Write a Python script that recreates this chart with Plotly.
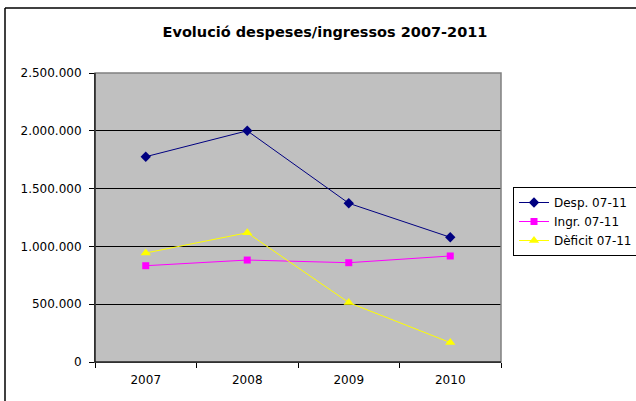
import plotly.graph_objects as go

years = ["2007", "2008", "2009", "2010"]
desp = [1776000, 2000000, 1373000, 1079000]
ingr = [833000, 882000, 859000, 917000]
deficit = [943000, 1118000, 514000, 168000]
series_names = ["Desp. 07-11", "Ingr. 07-11", "Dèficit 07-11"]
y_ticks = [0, 500000, 1000000, 1500000, 2000000, 2500000]

W, H = 636, 401
ml, mr, mt, mb = 95, 135, 73, 39
pw, ph = W - ml - mr, H - mt - mb

def px_x(p):
    return (p - ml) / pw

def px_y(p):
    return (H - mb - p) / ph

FONT = "DejaVu Sans"

fig = go.Figure()
fig.add_trace(go.Scatter(x=years, y=desp, name=series_names[0], mode="lines+markers",
                         line=dict(color="#000080", width=1),
                         marker=dict(symbol="diamond", size=8, color="#000080")))
fig.add_trace(go.Scatter(x=years, y=ingr, name=series_names[1], mode="lines+markers",
                         line=dict(color="#FF00FF", width=1),
                         marker=dict(symbol="square", size=7, color="#FF00FF")))
fig.add_trace(go.Scatter(x=years, y=deficit, name=series_names[2], mode="lines+markers",
                         line=dict(color="#FFFF00", width=1),
                         marker=dict(symbol="triangle-up", size=9, color="#FFFF00")))

fig.update_layout(
    width=W, height=H,
    margin=dict(l=ml, r=mr, t=mt, b=mb, pad=0, autoexpand=False),
    paper_bgcolor="white",
    plot_bgcolor="#C0C0C0",
    separators=",.",
    font=dict(family=FONT, size=12, color="black"),
    title=dict(text="<b>Evolució despeses/ingressos 2007-2011</b>",
               font=dict(family=FONT, size=14.5, color="black"),
               x=325 / W, xanchor="center", xref="container",
               y=1 - 32 / H, yanchor="middle", yref="container"),
    xaxis=dict(type="category", showgrid=False, zeroline=False, automargin=False,
               showline=True, linecolor="black", linewidth=1,
               ticks="outside", ticklen=5, tickcolor="black", tickson="boundaries",
               ticklabelstandoff=7,
               tickfont=dict(family=FONT, size=12, color="black"),
               range=[-0.5, 3.5], fixedrange=True),
    yaxis=dict(range=[0, 2500000], tickvals=y_ticks, tickformat=",d", automargin=False,
               showgrid=True, gridcolor="black", gridwidth=1, zeroline=False,
               showline=True, linecolor="black", linewidth=1,
               ticks="outside", ticklen=5, tickcolor="black",
               ticklabelstandoff=5,
               tickfont=dict(family=FONT, size=12, color="black"),
               fixedrange=True),
    legend=dict(x=513 / W, y=1 - 187 / H, xref="container", yref="container",
                xanchor="left", yanchor="top",
                bordercolor="black", borderwidth=1, bgcolor="white",
                font=dict(family=FONT, size=12, color="black"),
                tracegroupgap=0),
    showlegend=True,
    shapes=[
        dict(type="rect", xref="paper", yref="paper", x0=0, x1=1, y0=0, y1=1,
             line=dict(color="#808080", width=1.5), layer="above"),
        dict(type="line", xref="paper", yref="paper", x0=0, x1=0, y0=0, y1=1,
             line=dict(color="black", width=1), layer="above"),
        dict(type="line", xref="paper", yref="paper", x0=0, x1=1, y0=0, y1=0,
             line=dict(color="black", width=1), layer="above"),
        dict(type="line", xref="paper", yref="paper", x0=px_x(5), x1=px_x(700),
             y0=px_y(8), y1=px_y(8), line=dict(color="black", width=1.5)),
        dict(type="line", xref="paper", yref="paper", x0=px_x(5), x1=px_x(5),
             y0=px_y(8), y1=px_y(450), line=dict(color="black", width=1.5)),
    ],
)

fig.write_html("out.html", config=dict(displayModeBar=False),
               post_script="document.body.style.margin='0';")
